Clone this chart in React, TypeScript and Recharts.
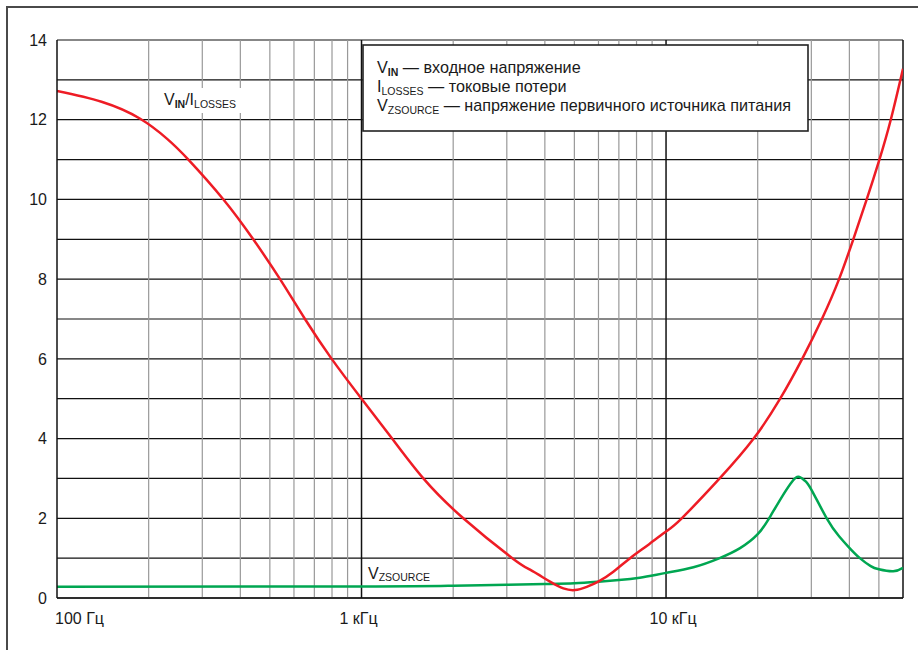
import React from 'react';
import { LineChart, Line, XAxis, YAxis, CartesianGrid, ReferenceLine } from 'recharts';

const freqRed = [100, 140, 187, 230, 270, 352, 441, 540, 652, 798, 1000, 1260, 1596, 2159, 3127, 3576, 4159, 4600, 5025, 5490, 5990, 6714, 7620, 8800, 10000, 11260, 15000, 19400, 23700, 28000, 32500, 37000, 41200, 45600, 50200, 54700, 60000];
const valRed = [12.72, 12.45, 12.03, 11.52, 11.0, 10.0, 9.0, 8.0, 7.0, 6.0, 5.0, 4.0, 3.0, 2.0, 1.0, 0.71, 0.41, 0.24, 0.2, 0.28, 0.41, 0.66, 1.0, 1.35, 1.67, 2.0, 3.0, 4.0, 5.0, 6.0, 7.0, 8.0, 9.0, 10.0, 11.0, 12.0, 13.28];

const freqGreen = [100, 1000, 2000, 3000, 4000, 5000, 6000, 7000, 8200, 10000, 12300, 15000, 17500, 20000, 22000, 24300, 26000, 27200, 28500, 30000, 33700, 37000, 40000, 43300, 47000, 50000, 55700, 60000];
const valGreen = [0.28, 0.29, 0.31, 0.33, 0.35, 0.37, 0.41, 0.45, 0.51, 0.63, 0.77, 1.0, 1.25, 1.6, 2.05, 2.6, 2.93, 3.04, 2.95, 2.72, 2.0, 1.55, 1.26, 1.0, 0.8, 0.72, 0.67, 0.76];

const xTicks = [100, 1000, 10000];
const xTickLabels = ['100 Гц', '1 кГц', '10 кГц'];
const xMinor = [200, 300, 400, 500, 600, 700, 800, 900, 2000, 3000, 4000, 5000, 6000, 7000, 8000, 9000, 20000, 30000, 40000, 50000];
const yTicks = [0, 1, 2, 3, 4, 5, 6, 7, 8, 9, 10, 11, 12, 13, 14];

const redData = freqRed.map((f, i) => ({ f, v: valRed[i] }));
const greenData = freqGreen.map((f, i) => ({ f, v: valGreen[i] }));

const FONT = '"Liberation Sans", Arial, Helvetica, sans-serif';
const TEXT = '#1a1a1a';

const XTick = (props: any) => {
  const { x, y, payload } = props;
  const v = payload.value;
  const label = xTickLabels[xTicks.indexOf(v)];
  const anchor = v === 100 ? 'start' : 'middle';
  const dx = v === 100 ? -2 : v === 1000 ? -3 : 7;
  return (
    <text x={x + dx} y={y} dy="0.71em" textAnchor={anchor} fontSize={16} fontFamily={FONT} fill={TEXT}>
      {label}
    </text>
  );
};

export default function App() {
  return (
    <div style={{ position: 'absolute', left: 0, top: 0, width: 918, height: 650, background: '#fff', overflow: 'hidden' }}>
      <div style={{ position: 'absolute', left: 6, top: 6, width: 940, height: 680, borderLeft: '2px solid #4a4a4a', borderTop: '2px solid #4a4a4a' }} />
      <div style={{ position: 'absolute', left: 0, top: 0 }}>
        <LineChart width={918} height={650} margin={{ top: 40, right: 15, bottom: 0, left: 0 }}>
          <CartesianGrid stroke="#111" strokeWidth={1.2} vertical={false} />
          {xMinor.map((f) => (
            <ReferenceLine key={f} x={f} stroke="#999" strokeWidth={1.2} />
          ))}
          <ReferenceLine x={1000} stroke="#111" strokeWidth={1.5} />
          <ReferenceLine x={10000} stroke="#111" strokeWidth={1.5} />
          <ReferenceLine x={60000} stroke="#111" strokeWidth={1.5} />
          <XAxis
            dataKey="f"
            type="number"
            scale="log"
            domain={[100, 60000]}
            allowDataOverflow
            ticks={xTicks}
            height={52}
            tickSize={0}
            tickMargin={15}
            tickLine={false}
            axisLine={{ stroke: '#111', strokeWidth: 1.5 }}
            tick={<XTick />}
          />
          <YAxis
            type="number"
            domain={[0, 14]}
            ticks={yTicks}
            interval={0}
            width={57}
            tickSize={0}
            tickMargin={10}
            tickLine={false}
            axisLine={{ stroke: '#111', strokeWidth: 1.5 }}
            tickFormatter={(v: number) => (v % 2 === 0 ? String(v) : '')}
            tick={{ fontSize: 16, fontFamily: FONT, fill: TEXT }}
          />
          <Line data={greenData} dataKey="v" type="natural" stroke="#00a651" strokeWidth={2.5} dot={false} isAnimationActive={false} />
          <Line data={redData} dataKey="v" type="natural" stroke="#ee1c25" strokeWidth={2.5} dot={false} isAnimationActive={false} />
        </LineChart>
      </div>
      <svg width={918} height={650} style={{ position: 'absolute', left: 0, top: 0, pointerEvents: 'none' }} fontFamily={FONT}>
        <rect x={156} y={88} width={90} height={25} fill="#fff" />
        <text x={164} y={105} fontSize={16} fill={TEXT}>
          <tspan>V</tspan>
          <tspan fontSize={10.5} fontWeight="bold" dy={3}>IN</tspan>
          <tspan dy={-3}>/I</tspan>
          <tspan fontSize={10.5} dy={3}>LOSSES</tspan>
        </text>
        <text x={368} y={579} fontSize={16} fill={TEXT}>
          <tspan>V</tspan>
          <tspan fontSize={10.5} dy={2}>ZSOURCE</tspan>
        </text>
        <rect x={363} y={45} width={445} height={86} fill="#fff" stroke="#222" strokeWidth={1.6} />
        <text x={377} y={72.5} fontSize={16.2} fill={TEXT}>
          <tspan>V</tspan>
          <tspan fontSize={10.5} fontWeight="bold" dy={3}>IN</tspan>
          <tspan dy={-3}> — входное напряжение</tspan>
        </text>
        <text x={377} y={92} fontSize={16.2} fill={TEXT}>
          <tspan>I</tspan>
          <tspan fontSize={10.5} dy={3}>LOSSES</tspan>
          <tspan dy={-3}> — токовые потери</tspan>
        </text>
        <text x={377} y={111} fontSize={16.2} fill={TEXT}>
          <tspan>V</tspan>
          <tspan fontSize={10.5} dy={3}>ZSOURCE</tspan>
          <tspan dy={-3}> — напряжение первичного источника питания</tspan>
        </text>
      </svg>
    </div>
  );
}
